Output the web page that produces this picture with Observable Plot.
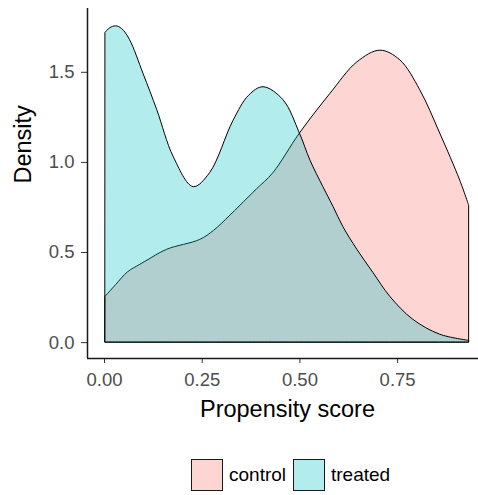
<!DOCTYPE html>
<html>
<head>
<meta charset="utf-8">
<script src="https://cdn.jsdelivr.net/npm/d3@7"></script>
<script src="https://cdn.jsdelivr.net/npm/@observablehq/plot@0.6"></script>
<style>
  html, body { margin: 0; padding: 0; background: #fff; overflow: hidden; }
  #chart { width: 478px; position: relative; font-family: "Liberation Sans", Arial, sans-serif; }
  #chart svg { display: block; }
  #chart svg text { font-family: "Liberation Sans", Arial, sans-serif; }
  .legend { position: relative; height: 55px; font-size: 19px; color: #000; }
  .legend .key { position: absolute; top: 19px; width: 32px; height: 32px; border: 1.5px solid #1a1a1a; box-sizing: border-box; }
  .legend .lab { position: absolute; top: 24px; line-height: 22px; }
</style>
</head>
<body>
<div id="chart"></div>
<script>
const groups = ["control", "treated"];
const colors = ["#F8766D", "#00BFC4"];

const controlX = [0.003, 0.03, 0.06, 0.09, 0.11, 0.16, 0.245, 0.28, 0.32, 0.348, 0.39, 0.432, 0.50, 0.578, 0.647, 0.706, 0.757, 0.808, 0.859, 0.91, 0.933];
const controlY = [0.255, 0.32, 0.39, 0.43, 0.455, 0.515, 0.57, 0.62, 0.70, 0.76, 0.85, 0.94, 1.16, 1.38, 1.555, 1.62, 1.566, 1.40, 1.16, 0.90, 0.76];

const treatedX = [0.003, 0.015, 0.03, 0.045, 0.065, 0.1, 0.135, 0.177, 0.228, 0.27, 0.33, 0.37, 0.407, 0.458, 0.50, 0.527, 0.56, 0.586, 0.611, 0.647, 0.688, 0.731, 0.79, 0.859, 0.933];
const treatedY = [1.72, 1.745, 1.755, 1.74, 1.68, 1.49, 1.29, 1.03, 0.863, 0.94, 1.23, 1.37, 1.417, 1.345, 1.16, 1.01, 0.863, 0.753, 0.642, 0.515, 0.387, 0.255, 0.127, 0.044, 0.01];

const xTicks = [0, 0.25, 0.5, 0.75];
const yTicks = [0, 0.5, 1.0, 1.5];
const xDomain = [-0.0435, 0.98];
const yDomain = [-0.088, 1.854];

const control = controlX.map((x, i) => ({x, y: controlY[i], group: groups[0]}));
const treated = treatedX.map((x, i) => ({x, y: treatedY[i], group: groups[1]}));

const plot = Plot.plot({
  width: 478,
  height: 440,
  marginLeft: 87,
  marginRight: -9,
  marginTop: 8,
  marginBottom: 82,
  style: {fontSize: "19px", color: "#4d4d4d", background: "#fff", overflow: "hidden"},
  x: {domain: xDomain},
  y: {domain: yDomain},
  marks: [
    Plot.areaY(control, {x: "x", y: "y", fill: colors[0], fillOpacity: 0.3, stroke: "black", strokeWidth: 1, curve: "catmull-rom"}),
    Plot.areaY(treated, {x: "x", y: "y", fill: colors[1], fillOpacity: 0.3, stroke: "black", strokeWidth: 1, curve: "catmull-rom"}),
    Plot.axisX({ticks: xTicks, tickFormat: d3.format(".2f"), tickSize: 5, tickPadding: 9, fontSize: 18.5, label: null, stroke: "#333"}),
    Plot.axisY({ticks: yTicks, tickFormat: d3.format(".1f"), tickSize: 6, tickPadding: 7, fontSize: 18.5, label: null, stroke: "#333"}),
    Plot.ruleX([xDomain[0]], {stroke: "#1a1a1a", strokeWidth: 1.5}),
    Plot.ruleY([yDomain[0]], {stroke: "#1a1a1a", strokeWidth: 1.5}),
    Plot.text(["Propensity score"], {frameAnchor: "bottom", dy: 58, fontSize: 23.5, fill: "#000", textAnchor: "middle"}),
    Plot.text(["Density"], {frameAnchor: "left", dx: -64, rotate: -90, fontSize: 23.5, fill: "#000"})
  ]
});
document.getElementById("chart").appendChild(plot);

const legend = document.createElement("div");
legend.className = "legend";
const keyLeft = [191, 293];
const labLeft = [229, 331];
groups.forEach((g, i) => {
  const key = document.createElement("div");
  key.className = "key";
  key.style.left = keyLeft[i] + "px";
  key.style.background = d3.interpolateRgb("#fff", colors[i])(0.3);
  const label = document.createElement("span");
  label.className = "lab";
  label.style.left = labLeft[i] + "px";
  label.textContent = g;
  legend.appendChild(key);
  legend.appendChild(label);
});
document.getElementById("chart").appendChild(legend);
</script>
</body>
</html>
